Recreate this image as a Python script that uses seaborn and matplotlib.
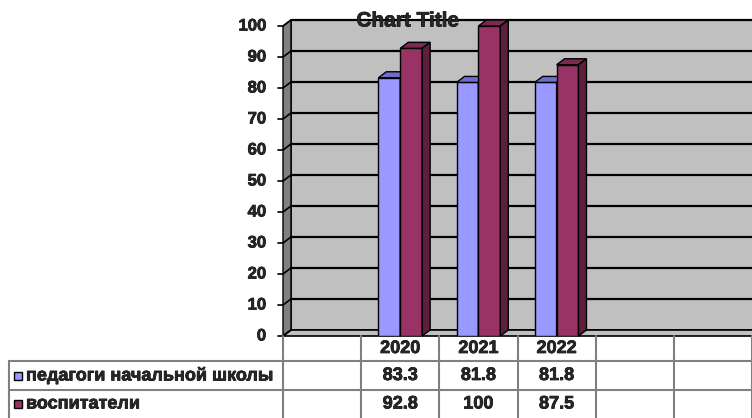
import numpy as np
import pandas as pd
import matplotlib.pyplot as plt
import matplotlib.patheffects as pe
import seaborn as sns
from matplotlib.colors import to_rgba
from matplotlib.patches import Polygon, Rectangle
from matplotlib.lines import Line2D
from matplotlib.transforms import ScaledTranslation, IdentityTransform

# data
categories = ["", "2020", "2021", "2022", " ", "  "]
years = ["2020", "2021", "2022"]
series_names = ["педагоги начальной школы", "воспитатели"]
teachers = [83.3, 81.8, 81.8]
educators = [92.8, 100, 87.5]
yticks = [0, 10, 20, 30, 40, 50, 60, 70, 80, 90, 100]

colors = ["#9999FF", "#993366"]
tops = ["#6E6ED0", "#7A2951"]
sides = ["#5C5CAA", "#5C1F3D"]

df = pd.DataFrame({
    "year": years * 2,
    "group": [series_names[0]] * 3 + [series_names[1]] * 3,
    "value": teachers + educators,
})

sns.set_style("white")
plt.rcParams["font.family"] = ["Liberation Sans", "DejaVu Sans"]
heavy = [pe.withStroke(linewidth=0.5, foreground="black")]

W, H = 752, 418
fig = plt.figure(figsize=(W / 100, H / 100), dpi=100)
x0, y0, y100 = 283, 336, 26
ax = fig.add_axes([x0 / W, (H - y0) / H, (W - x0) / W, (y0 - y100) / H])
ax.patch.set_visible(False)
for s in ax.spines.values():
    s.set_visible(False)

sns.barplot(data=df, x="year", y="value", hue="group", order=categories,
            hue_order=series_names, palette=colors, width=0.56, edgecolor="black",
            linewidth=1, saturation=1, legend=False, ax=ax)
bars = [p for p in ax.patches if p.get_height() > 0]
ax.set_xlim(-0.5, len(categories) - 0.5)
ax.set_ylim(0, 100)
ax.set_xticks([])
ax.set_yticks([])
ax.set_xlabel("")
ax.set_ylabel("")

dx, dy = 8, 6  # depth offset in px
off = ax.transAxes + ScaledTranslation(dx / 100, dy / 100, fig.dpi_scale_trans)

# back wall
ax.add_patch(Rectangle((0, 0), 1.2, 1, transform=off, facecolor="#C0C0C0",
                       edgecolor="black", lw=1.2, clip_on=False, zorder=0))

def disp(x, y):
    return ax.transAxes.transform((x, y))

p00, p01 = disp(0, 0), disp(0, 1)
p10 = disp(1.2, 0)
side = [p00, p01, p01 + [dx, dy], p00 + [dx, dy]]
ax.add_patch(Polygon(side, closed=True, transform=IdentityTransform(), clip_on=False,
                     facecolor="#808080", edgecolor="black", lw=1, zorder=1))
floor = [p00, p10, p10 + [dx, dy], p00 + [dx, dy]]
ax.add_patch(Polygon(floor, closed=True, transform=IdentityTransform(), clip_on=False,
                     facecolor="#C0C0C0", edgecolor="black", lw=1.2, zorder=1))

# gridlines on back wall and ticks
for v in yticks[1:]:
    ax.plot([0, 1.2], [v / 100, v / 100], transform=off, color="black", lw=1.6,
            clip_on=False, zorder=0.5)
for v in yticks:
    py = ax.transData.transform((0, v))[1]
    ax.add_line(Line2D([x0 - 5, x0, x0 + dx], [py, py, py + dy], transform=IdentityTransform(),
                       color="black", lw=1.2, zorder=2, clip_on=False))
    fig.text((x0 - 17) / W, py / H, str(v), ha="right", va="center", fontsize=12,
             fontweight="bold", path_effects=heavy)

# 3D tops and sides on bars
bars = sorted(bars, key=lambda p: p.get_x())
z = 3
for b in bars:
    k = 0 if np.allclose(b.get_facecolor(), to_rgba(colors[0]), atol=0.02) else 1
    (bx0, by0) = ax.transData.transform((b.get_x(), 0))
    (bx1, by1) = ax.transData.transform((b.get_x() + b.get_width(), b.get_height()))
    b.set_zorder(z)
    top = [(bx0, by1), (bx1, by1), (bx1 + dx, by1 + dy), (bx0 + dx, by1 + dy)]
    sd = [(bx1, by0), (bx1, by1), (bx1 + dx, by1 + dy), (bx1 + dx, by0 + dy)]
    ax.add_patch(Polygon(top, closed=True, transform=IdentityTransform(), clip_on=False,
                         facecolor=tops[k], edgecolor="black", lw=1, zorder=z + 0.1))
    ax.add_patch(Polygon(sd, closed=True, transform=IdentityTransform(), clip_on=False,
                         facecolor=sides[k], edgecolor="black", lw=1, zorder=z + 0.1))
    z += 1

fig.text(408 / W, (H - 21) / H, "Chart Title", ha="center", va="center", fontsize=15,
         fontweight="bold", zorder=10, path_effects=heavy)

# data table
gray = "#808080"
rows_y = [336, 361, 390, 418]
edges = [ax.transData.transform((i - 0.5, 0))[0] for i in range(len(categories) + 1)]
for e in edges:
    fig.add_artist(Line2D([e, e], [H - rows_y[0], H - rows_y[-1]], transform=IdentityTransform(),
                          color=gray, lw=1.5))
fig.add_artist(Line2D([9, 9], [H - rows_y[1], 0], transform=IdentityTransform(), color=gray, lw=1.5))
for ry in rows_y[1:3]:
    fig.add_artist(Line2D([9, W], [H - ry, H - ry], transform=IdentityTransform(), color=gray, lw=1.5))

def cy(i):
    return H - (rows_y[i] + rows_y[i + 1]) / 2

for ci, cat in enumerate(categories):
    cx = ax.transData.transform((ci, 0))[0]
    if cat in years:
        j = years.index(cat)
        for r, txt in enumerate([cat, f"{teachers[j]:g}", f"{educators[j]:g}"]):
            fig.text(cx / W, cy(r) / H, txt, ha="center", va="center", fontsize=13,
                     fontweight="bold", path_effects=heavy)

for i, name in enumerate(series_names):
    yc = cy(i + 1)
    fig.add_artist(Rectangle((14, yc - 4), 8, 8, transform=IdentityTransform(),
                             facecolor=colors[i], edgecolor="black", lw=1))
    fig.text(26 / W, yc / H, name, ha="left", va="center", fontsize=13,
             fontweight="bold", path_effects=heavy)

fig.savefig("out.png", dpi=100)
